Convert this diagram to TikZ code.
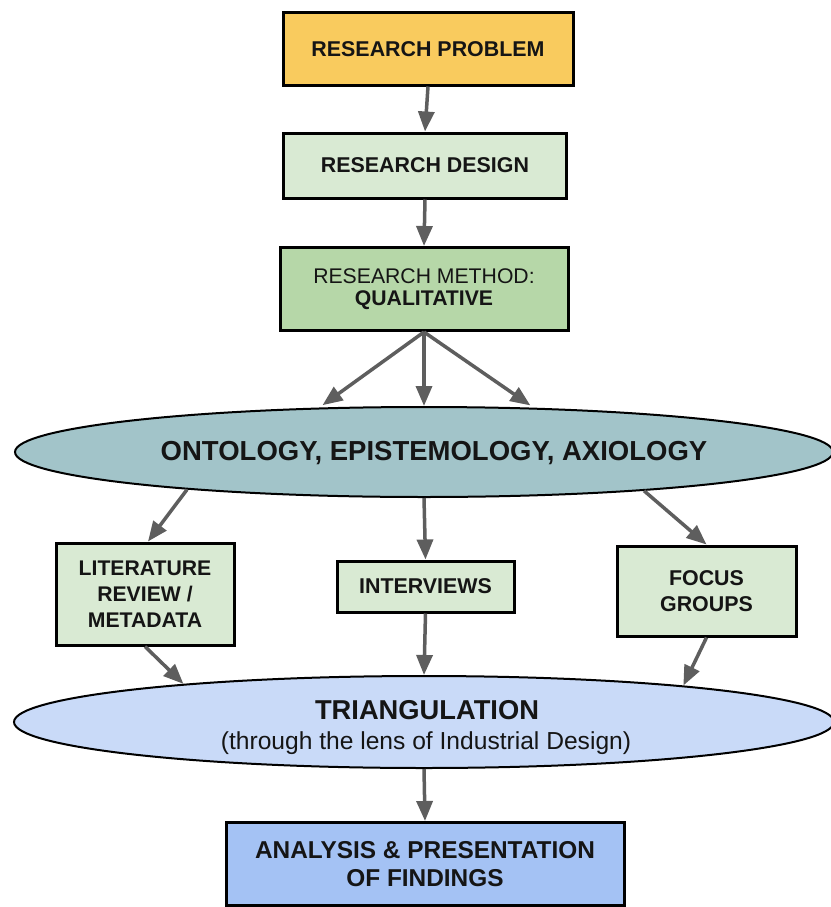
\documentclass[tikz,border=0pt]{standalone}
\usepackage{fontspec}
\setmainfont{Liberation Sans}
\usetikzlibrary{shapes.geometric,arrows.meta}

\definecolor{cProb}{HTML}{F9CB5E}
\definecolor{cLight}{HTML}{D9EAD3}
\definecolor{cMethod}{HTML}{B6D7A8}
\definecolor{cOnto}{HTML}{A2C4C9}
\definecolor{cTri}{HTML}{C9DAF8}
\definecolor{cFinal}{HTML}{A4C2F4}
\definecolor{cInk}{HTML}{151515}
\definecolor{cArrow}{HTML}{5E5E5E}

\tikzset{
  stepbox/.style={draw=black, line width=3pt, rectangle, inner sep=0pt,
    align=center, text=cInk},
  oval/.style={draw=black, line width=2pt, ellipse, inner sep=0pt,
    align=center, text=cInk},
  boxfont/.style={font=\fontsize{21.4}{26}\selectfont\bfseries},
  arr/.style={draw=cArrow, line width=3.5pt,
    -{Triangle[length=20pt,width=16pt]}}
}

\begin{document}
\begin{tikzpicture}[x=1pt,y=-1pt]
\useasboundingbox (0,0) rectangle (830,907);

% top chain
\node[stepbox, boxfont, fill=cProb, minimum width=290pt, minimum height=72pt]
  (prob) at (428,49) {RESEARCH PROBLEM};
\node[stepbox, boxfont, fill=cLight, minimum width=283pt, minimum height=65pt]
  (design) at (425,165.5) {RESEARCH DESIGN};
\node[stepbox, fill=cMethod, minimum width=288pt, minimum height=83pt,
  font=\fontsize{21.2}{21.5}\selectfont]
  (method) at (424,289) {RESEARCH METHOD:\\ \textbf{QUALITATIVE}};

% philosophical ellipse
\node[oval, fill=cOnto, minimum width=818pt, minimum height=90pt,
  label={[xshift=10pt, yshift=-1pt, text=cInk, font=\fontsize{27.5}{30}\selectfont\bfseries]center:ONTOLOGY, EPISTEMOLOGY, AXIOLOGY}]
  (onto) at (424,452) {};

% data sources
\node[stepbox, fill=cLight, minimum width=178pt, minimum height=102pt,
  font=\fontsize{21.2}{26}\selectfont\bfseries]
  (lit) at (145,594) {LITERATURE\\REVIEW /\\METADATA};
\node[stepbox, boxfont, fill=cLight, minimum width=177pt, minimum height=51pt]
  (inter) at (425.5,586.5) {INTERVIEWS};
\node[stepbox, boxfont, fill=cLight, minimum width=179pt, minimum height=90pt]
  (focus) at (706.5,591) {FOCUS\\GROUPS};

% triangulation ellipse with its title and subtitle
\node[oval, fill=cTri, minimum width=820pt, minimum height=92pt,
  label={[xshift=3pt, yshift=12pt, text=cInk, font=\fontsize{27.3}{30}\selectfont\bfseries]center:TRIANGULATION},
  label={[xshift=2pt, yshift=-21pt, text=cInk, font=\fontsize{24.6}{28}\selectfont]center:(through the lens of Industrial Design)}]
  (tri) at (424,722) {};

% final box
\node[stepbox, fill=cFinal, minimum width=398pt, minimum height=83pt,
  font=\fontsize{24.4}{27.5}\selectfont\bfseries]
  (final) at (425,864) {ANALYSIS \& PRESENTATION\\OF FINDINGS};

% connectors
\draw[arr] (prob.south) -- (design.north);
\draw[arr] (design.south) -- (method.north);
\draw[arr, shorten >=4pt] (method.south) -- (onto.157.5);
\draw[arr] (method.south) -- (onto.north);
\draw[arr, shorten >=4pt] (method.south) -- (onto.22.7);

\draw[arr] (onto.189.8) -- ([xshift=3pt]lit.north);
\draw[arr] (onto.south) -- (inter.north);
\draw[arr] (onto.350.5) -- (focus.north);

\draw[arr] (lit.south) -- (tri.171.9);
\draw[arr] (inter.south) -- (tri.north);
\draw[arr] (focus.south) -- (tri.8.3);

\draw[arr] (tri.south) -- (final.north);
\end{tikzpicture}
\end{document}
